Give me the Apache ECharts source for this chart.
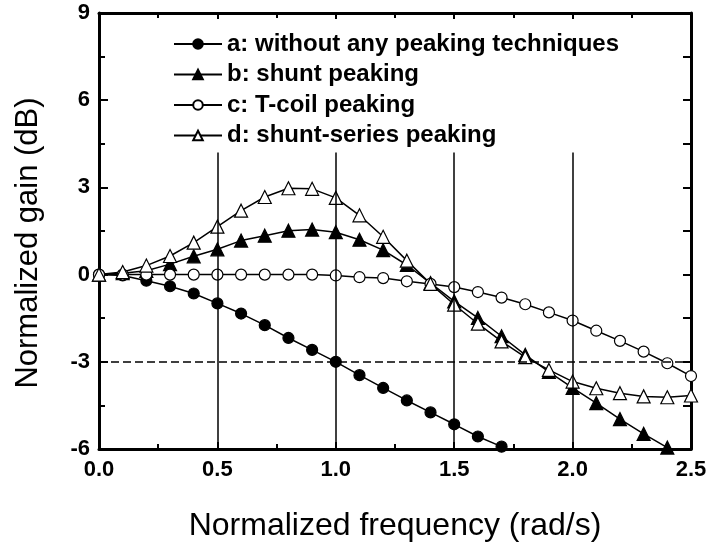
<!DOCTYPE html>
<html>
<head>
<meta charset="utf-8">
<script src="https://cdn.jsdelivr.net/npm/echarts@6/dist/echarts.min.js"></script>
<style>
html,body{margin:0;padding:0;background:#fff;}
#chart{width:711px;height:552px;}
</style>
</head>
<body>
<div id="chart"></div>
<script>
// ---- data ----
var freq = [0, 0.1, 0.2, 0.3, 0.4, 0.5, 0.6, 0.7, 0.8, 0.9, 1.0, 1.1, 1.2, 1.3, 1.4, 1.5, 1.6, 1.7, 1.8, 1.9, 2.0, 2.1, 2.2, 2.3, 2.4, 2.5];
var gainA = [0, -0.03, -0.21, -0.40, -0.65, -0.99, -1.34, -1.74, -2.18, -2.59, -3.00, -3.46, -3.90, -4.33, -4.74, -5.15, -5.57, -5.92];
var gainB = [0, 0.05, 0.13, 0.36, 0.63, 0.87, 1.17, 1.34, 1.51, 1.55, 1.46, 1.20, 0.84, 0.33, -0.29, -0.92, -1.49, -2.12, -2.76, -3.35, -3.90, -4.42, -4.97, -5.48, -5.95, -6.45];
var gainC = [0, 0, 0, 0, 0, 0, 0, 0, 0, 0, -0.03, -0.09, -0.12, -0.23, -0.32, -0.43, -0.60, -0.79, -1.02, -1.30, -1.58, -1.93, -2.28, -2.65, -3.05, -3.49];
var gainD = [0, 0.09, 0.31, 0.64, 1.10, 1.65, 2.20, 2.67, 2.97, 2.95, 2.64, 2.04, 1.30, 0.48, -0.32, -1.03, -1.69, -2.30, -2.84, -3.28, -3.68, -3.91, -4.08, -4.19, -4.22, -4.16];
var seriesNames = ['a: without any peaking techniques', 'b: shunt peaking', 'c: T-coil peaking', 'd: shunt-series peaking'];
var vLineX = [0.5, 1.0, 1.5, 2.0];
var vLineTop = 4.2;
var refLevel = -3;
var xTitle = 'Normalized frequency (rad/s)';
var yTitle = 'Normalized gain (dB)';

function pairs(vals) { return vals.map(function (v, i) { return [freq[i], v]; }); }

var FONT = 'Liberation Sans, Arial, sans-serif';
var chart = echarts.init(document.getElementById('chart'), null, {renderer: 'canvas'});

function lineSeries(name, vals, symbol, size, fill) {
  return {
    name: name, type: 'line', data: pairs(vals), clip: true,
    symbol: symbol, symbolSize: size, showAllSymbol: true,
    lineStyle: {color: '#000', width: 1.5},
    itemStyle: {color: fill, borderColor: '#000', borderWidth: 1.2},
    emphasis: {disabled: true}, animation: false, z: 3
  };
}

var xMain = {
  type: 'value', min: 0, max: 2.5, interval: 0.5, position: 'bottom',
  axisLine: {show: true, onZero: false, lineStyle: {color: '#000', width: 3}},
  axisTick: {show: true, inside: true, length: 7, lineStyle: {color: '#000', width: 2}},
  minorTick: {show: true, splitNumber: 2, length: 5, lineStyle: {color: '#000', width: 2}},
  splitLine: {show: false},
  axisLabel: {color: '#000', fontFamily: FONT, fontWeight: 'bold', fontSize: 22, margin: 10,
    formatter: function (v) { return v.toFixed(1); }},
  name: xTitle, nameLocation: 'middle', nameGap: 61,
  nameTextStyle: {color: '#000', fontFamily: FONT, fontSize: 32}
};
var xTop = {
  type: 'value', min: 0, max: 2.5, interval: 0.5, position: 'top',
  axisLine: {show: true, onZero: false, lineStyle: {color: '#000', width: 3}},
  axisTick: {show: true, inside: true, length: 6, lineStyle: {color: '#000', width: 2}},
  minorTick: {show: true, splitNumber: 2, length: 5, lineStyle: {color: '#000', width: 2}},
  splitLine: {show: false}, axisLabel: {show: false}
};
var yMain = {
  type: 'value', min: -6, max: 9, interval: 3, position: 'left',
  axisLine: {show: true, onZero: false, lineStyle: {color: '#000', width: 3}},
  axisTick: {show: true, inside: true, length: 9, lineStyle: {color: '#000', width: 2}},
  minorTick: {show: true, splitNumber: 2, length: 6, lineStyle: {color: '#000', width: 2}},
  splitLine: {show: false},
  axisLabel: {color: '#000', fontFamily: FONT, fontWeight: 'bold', fontSize: 22, margin: 9}
};
var yRight = {
  type: 'value', min: -6, max: 9, interval: 3, position: 'right',
  axisLine: {show: true, onZero: false, lineStyle: {color: '#000', width: 3}},
  axisTick: {show: true, inside: true, length: 8, lineStyle: {color: '#000', width: 2}},
  minorTick: {show: true, splitNumber: 2, length: 8, lineStyle: {color: '#000', width: 2}},
  splitLine: {show: false}, axisLabel: {show: false}
};

var vLines = vLineX.map(function (x) {
  return [{coord: [x, -6]}, {coord: [x, vLineTop]}];
});

var option = {
  backgroundColor: '#fff',
  animation: false,
  grid: {left: 99, right: 20, top: 13, bottom: 103, containLabel: false},
  xAxis: [xMain, xTop],
  yAxis: [yMain, yRight],
  legend: {
    data: seriesNames, orient: 'vertical', left: 173, top: 32, padding: 0,
    itemWidth: 48, itemHeight: 12, itemGap: 6.5,
    textStyle: {color: '#000', fontFamily: FONT, fontWeight: 'bold', fontSize: 24, lineHeight: 24},
    selectedMode: false
  },
  graphic: [{
    type: 'text',
    rotation: Math.PI / 2,
    x: 28, y: 243,
    style: {text: yTitle, fill: '#000', font: '31px Liberation Sans, Arial, sans-serif', align: 'center', verticalAlign: 'middle'}
  }],
  series: [
    {
      name: 'refs', type: 'line', data: [], silent: true, z: 1,
      markLine: {
        silent: true, symbol: 'none', animation: false,
        label: {show: false},
        lineStyle: {color: '#000', width: 1.5, type: 'solid'},
        emphasis: {disabled: true},
        data: vLines.concat([
          [{coord: [0, refLevel], lineStyle: {type: [8, 4], width: 1.5}}, {coord: [2.5, refLevel]}]
        ])
      }
    },
    lineSeries(seriesNames[0], gainA, 'circle', 11, '#000'),
    lineSeries(seriesNames[1], gainB, 'triangle', 13, '#000'),
    lineSeries(seriesNames[2], gainC, 'circle', 11, '#fff'),
    lineSeries(seriesNames[3], gainD, 'triangle', 13, '#fff')
  ]
};
chart.setOption(option);
</script>
</body>
</html>
